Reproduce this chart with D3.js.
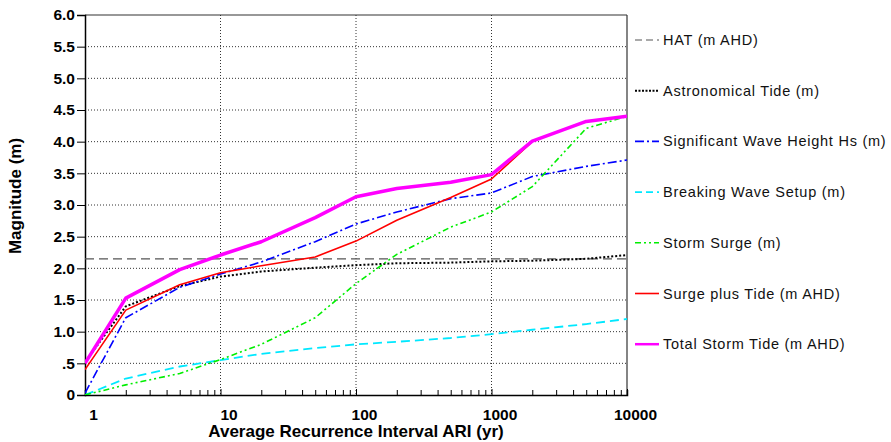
<!DOCTYPE html>
<html><head><meta charset="utf-8">
<script src="https://cdn.jsdelivr.net/npm/d3@7"></script>
<style>body{margin:0;background:#fff;} svg{display:block;font-family:"Liberation Sans",Arial,sans-serif;}</style>
</head><body><svg id="c" width="891" height="442"></svg>
<script>
const ari = [1, 2, 5, 10, 20, 50, 100, 200, 500, 1000, 2000, 5000, 10000];
const hat = [2.15, 2.15, 2.15, 2.15, 2.15, 2.15, 2.15, 2.15, 2.15, 2.15, 2.15, 2.15, 2.15];
const astroTide = [0.52, 1.40, 1.72, 1.87, 1.95, 2.01, 2.05, 2.08, 2.09, 2.11, 2.12, 2.15, 2.21];
const waveHeight = [0.03, 1.22, 1.70, 1.91, 2.10, 2.42, 2.70, 2.89, 3.10, 3.19, 3.45, 3.61, 3.71];
const waveSetup = [0.0, 0.26, 0.45, 0.55, 0.65, 0.74, 0.80, 0.84, 0.90, 0.96, 1.03, 1.12, 1.20];
const stormSurge = [0.0, 0.16, 0.34, 0.56, 0.80, 1.22, 1.76, 2.22, 2.65, 2.89, 3.29, 4.21, 4.40];
const surgeTide = [0.40, 1.34, 1.74, 1.93, 2.04, 2.18, 2.43, 2.76, 3.12, 3.41, 4.00, null, null];
const totalTide = [0.50, 1.53, 1.98, 2.21, 2.42, 2.80, 3.13, 3.26, 3.36, 3.48, 4.01, 4.32, 4.40];
const yTicks = [0, 0.5, 1, 1.5, 2, 2.5, 3, 3.5, 4, 4.5, 5, 5.5, 6];
const yTickLabels = ["0", ".5", "1.0", "1.5", "2.0", "2.5", "3.0", "3.5", "4.0", "4.5", "5.0", "5.5", "6.0"];
const xTicks = [1, 10, 100, 1000, 10000];
const xTickLabels = ["1", "10", "100", "1000", "10000"];

const series = [
  {name: "HAT (m AHD)", values: hat, color: "#555555", width: 1.2, dash: "9,5"},
  {name: "Astronomical Tide (m)", values: astroTide, color: "#000000", width: 2, dash: "2,2"},
  {name: "Significant Wave Height Hs (m)", values: waveHeight, color: "#0000ff", width: 1.6, dash: "9,3,2,3"},
  {name: "Breaking Wave Setup (m)", values: waveSetup, color: "#00e8ff", width: 1.8, dash: "9,5"},
  {name: "Storm Surge (m)", values: stormSurge, color: "#00ee00", width: 1.6, dash: "6,3,2,3,2,3"},
  {name: "Surge plus Tide (m AHD)", values: surgeTide, color: "#ff0000", width: 1.6, dash: null},
  {name: "Total Storm Tide (m AHD)", values: totalTide, color: "#ff00ff", width: 3.5, dash: null}
];

const L = 85, R = 627, T = 15, B = 395;
const svg = d3.select("#c");
const x = d3.scaleLog().domain([1, 10000]).range([L, R]);
const y = d3.scaleLinear().domain([0, 6]).range([B, T]);

// grid
const g = svg.append("g");
g.selectAll("line.hg").data(yTicks.filter(v => v > 0 && v < 6)).join("line")
  .attr("x1", L).attr("x2", R).attr("y1", d => y(d)).attr("y2", d => y(d))
  .attr("stroke", "#333").attr("stroke-width", 1).attr("stroke-dasharray", "1,2");
g.selectAll("line.vg").data(xTicks.filter(v => v > 1 && v < 10000)).join("line")
  .attr("y1", T).attr("y2", B).attr("x1", d => x(d)).attr("x2", d => x(d))
  .attr("stroke", "#333").attr("stroke-width", 1).attr("stroke-dasharray", "1,2");

// frame
svg.append("line").attr("x1", L).attr("x2", R).attr("y1", T).attr("y2", T).attr("stroke", "#333").attr("stroke-width", 1.2);
svg.append("line").attr("x1", R).attr("x2", R).attr("y1", T).attr("y2", B).attr("stroke", "#333").attr("stroke-width", 1.2);

// left axis
const yAxis = d3.axisLeft(y).tickValues(yTicks).tickSize(8).tickPadding(2)
  .tickFormat((d, i) => yTickLabels[i]);
const ya = svg.append("g").attr("transform", `translate(${L},0)`).call(yAxis);
ya.select(".domain").attr("stroke", "#000").attr("stroke-width", 1.5);
ya.selectAll(".tick line").attr("stroke", "#000");
ya.selectAll("text").attr("font-size", 15.5).attr("font-weight", "bold").attr("fill", "#000");

// bottom axis: minor ticks inward
const minor = [];
for (let e = 0; e < 4; e++) for (let k = 2; k <= 9; k++) minor.push(k * Math.pow(10, e));
const xa = svg.append("g").attr("transform", `translate(0,${B})`);
xa.call(d3.axisBottom(x).tickValues(minor).tickSize(-5).tickFormat(""));
xa.select(".domain").attr("stroke", "#000").attr("stroke-width", 1.5);
const xm = svg.append("g").attr("transform", `translate(0,${B})`)
  .call(d3.axisBottom(x).tickValues(xTicks).tickSize(-6).tickFormat((d, i) => xTickLabels[i]).tickPadding(14));
xm.select(".domain").remove();
xm.selectAll("text").attr("font-size", 15.5).attr("font-weight", "bold").attr("fill", "#000").attr("dx", 8);

// titles
svg.append("text").attr("x", 356).attr("y", 437).attr("text-anchor", "middle")
  .attr("font-size", 17).attr("font-weight", "bold").text("Average Recurrence Interval ARI (yr)");
svg.append("text").attr("transform", "translate(21,196) rotate(-90)").attr("text-anchor", "middle")
  .attr("font-size", 17).attr("font-weight", "bold").text("Magnitude (m)");

// lines
const line = d3.line().defined(d => d[1] != null).x(d => x(d[0])).y(d => y(d[1]));
svg.append("clipPath").attr("id", "pc").append("rect").attr("x", L).attr("y", T - 5).attr("width", R - L).attr("height", B - T + 5);
series.forEach(s => {
  svg.append("path").datum(ari.map((a, i) => [a, s.values[i]]))
    .attr("d", line).attr("fill", "none").attr("stroke", s.color)
    .attr("stroke-width", s.width).attr("stroke-dasharray", s.dash)
    .attr("stroke-linejoin", "round").attr("clip-path", "url(#pc)");
});

// legend
const lg = svg.append("g");
series.forEach((s, i) => {
  const yy = 40 + i * 50.7;
  lg.append("line").attr("x1", 635).attr("x2", 659).attr("y1", yy).attr("y2", yy)
    .attr("stroke", s.color).attr("stroke-width", Math.min(s.width, 2.5))
    .attr("stroke-dasharray", s.dash ? (s.dash === "2,2" ? "2,1.5" : s.dash.replace("9,5", "7,4")) : null);
  lg.append("text").attr("x", 663).attr("y", yy + 5).attr("font-size", 14.5)
    .attr("letter-spacing", 0.75).attr("fill", "#111").text(s.name);
});
</script></body></html>
